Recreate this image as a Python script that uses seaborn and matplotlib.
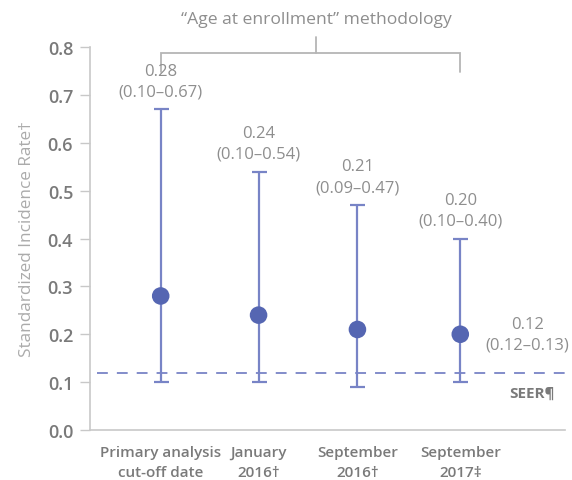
import matplotlib
matplotlib.use("Agg")
import matplotlib.pyplot as plt
import seaborn as sns
import pandas as pd

# Standardized incidence rates with 95% confidence intervals
periods = ["Primary analysis\ncut-off date", "January\n2016\u2020", "September\n2016\u2020", "September\n2017\u2021"]
sir = [0.28, 0.24, 0.21, 0.20]
ci_low = [0.10, 0.10, 0.09, 0.10]
ci_high = [0.67, 0.54, 0.47, 0.40]
seer_rate = 0.12
seer_ci = (0.12, 0.13)
y_ticks = [0.0, 0.1, 0.2, 0.3, 0.4, 0.5, 0.6, 0.7, 0.8]

sns.set_theme(style="white")
plt.rcParams["font.family"] = ["Open Sans", "DejaVu Sans"]

point_color = "#5566b2"
bar_color = "#7884c6"
text_gray = "#8e8e8e"
tick_gray = "#7a7a7a"
axis_gray = "#c8c8c8"

df = pd.DataFrame({"pos": [0.0, 0.98, 1.97, 3.0], "period": periods, "sir": sir,
                   "low": ci_low, "high": ci_high})

fig = plt.figure(figsize=(5.72, 4.81), dpi=100)
ax = fig.add_axes([0.157, 0.104, 0.831, 0.796])

# confidence interval whiskers
ax.errorbar(df["pos"], df["sir"],
            yerr=[df["sir"] - df["low"], df["high"] - df["sir"]],
            fmt="none", ecolor=bar_color, elinewidth=1.6, capsize=5.4,
            capthick=1.6, zorder=2)
sns.scatterplot(data=df, x="pos", y="sir", ax=ax, color=point_color, s=160,
                edgecolor="none", zorder=3, legend=False)

# SEER reference
ax.axhline(seer_rate, xmin=0.015, xmax=1.0, color=bar_color, lw=1.3,
           dashes=(6, 5), zorder=1)
ax.text(3.67, 0.2, f"{seer_rate:.2f}\n({seer_ci[0]:.2f}\u2013{seer_ci[1]:.2f})",
        ha="center", va="center", fontsize=12, color=text_gray, linespacing=1.42)
ax.text(3.94, 0.077, "SEER\u00b6", ha="right", va="center", fontsize=11,
        color=tick_gray, fontweight="bold")

# value labels above each interval
for _, r in df.iterrows():
    ax.annotate(f"{r['sir']:.2f}\n({r['low']:.2f}\u2013{r['high']:.2f})",
                xy=(r["pos"], r["high"]), xytext=(0, 7), textcoords="offset points",
                ha="center", va="bottom", fontsize=12, color=text_gray,
                linespacing=1.42)

ax.set_xlim(-0.71, 4.05)
ax.set_ylim(0, 0.8)
ax.set_yticks(y_ticks)
ax.set_yticklabels([f"{v:.1f}" for v in y_ticks], fontsize=13, color=tick_gray,
                   fontweight="semibold")
ax.set_xticks(df["pos"])
ax.set_xticklabels(periods, fontsize=11, color=tick_gray, fontweight="semibold",
                   linespacing=1.5)
ax.tick_params(axis="y", length=7, width=1, color=axis_gray, pad=5, left=True)
ax.tick_params(axis="x", length=0, pad=11)
ax.set_xlabel("")
ax.set_ylabel("Standardized Incidence Rate\u2020", fontsize=12.3, color="#ababab",
              labelpad=9)

sns.despine(ax=ax)
for side in ("left", "bottom"):
    ax.spines[side].set_color(axis_gray)
    ax.spines[side].set_linewidth(1.2)
ax.spines["left"].set_bounds(0, 0.8)

# bracket over the "age at enrollment" analyses
bk_y, bk_drop, bk_stem = 0.788, 0.748, 0.822
ax.plot([0, 0, 3, 3], [bk_drop, bk_y, bk_y, bk_drop], color="#b5b5b5", lw=1.3,
        clip_on=False, solid_joinstyle="miter")
ax.plot([1.56, 1.56], [bk_y, bk_stem], color="#b5b5b5", lw=1.3, clip_on=False)
ax.text(1.56, 0.858, "\u201cAge at enrollment\u201d methodology", ha="center",
        va="center", fontsize=12.6, color=text_gray)

fig.savefig("out.png", dpi=100)
